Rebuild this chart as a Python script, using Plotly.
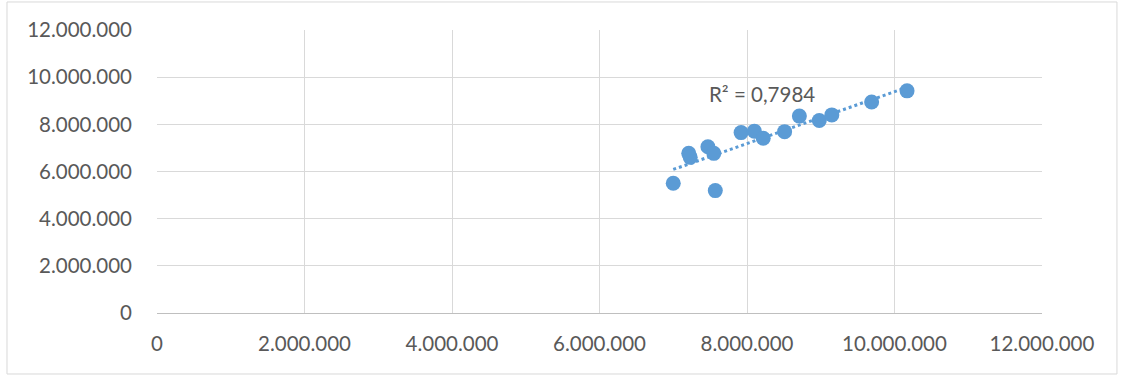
import numpy as np
import plotly.graph_objects as go

x_vals = [7.00e6, 7.57e6, 7.21e6, 7.23e6, 7.47e6, 7.55e6, 7.92e6, 8.10e6,
          8.22e6, 8.51e6, 8.71e6, 8.98e6, 9.15e6, 9.69e6, 10.17e6]
y_vals = [5.50e6, 5.19e6, 6.77e6, 6.60e6, 7.05e6, 6.77e6, 7.65e6, 7.71e6,
          7.41e6, 7.69e6, 8.35e6, 8.16e6, 8.40e6, 8.95e6, 9.42e6]
tick_vals = [0, 2e6, 4e6, 6e6, 8e6, 10e6, 12e6]
tick_text = ["0", "2.000.000", "4.000.000", "6.000.000", "8.000.000", "10.000.000", "12.000.000"]
r2_label = "R² = 0,7984"

blue = "#5B9BD5"
font = dict(family="Lato, Carlito, Calibri, sans-serif", size=20.5, color="#595959")

slope, intercept = np.polyfit(x_vals, y_vals, 1)
tx = np.array([min(x_vals), max(x_vals)])
ty = slope * tx + intercept

fig = go.Figure()
fig.add_trace(go.Scatter(x=tx, y=ty, mode="lines",
                         line=dict(color=blue, width=3, dash="dot"),
                         hoverinfo="skip", showlegend=False))
fig.add_trace(go.Scatter(x=x_vals, y=y_vals, mode="markers",
                         marker=dict(color=blue, size=15, line=dict(width=0)),
                         showlegend=False))

fig.add_annotation(x=8.2e6, y=9.29e6, text=r2_label, showarrow=False,
                   font=font, xanchor="center", yanchor="middle")

fig.update_layout(
    width=1124, height=376,
    margin=dict(l=157, r=82, t=30, b=63),
    paper_bgcolor="white", plot_bgcolor="white",
    font=font,
    showlegend=False,
    shapes=[dict(type="rect", xref="paper", yref="paper",
                 x0=-0.1695, x1=1.0847, y0=-0.2155, y1=1.099,
                 line=dict(color="#D9D9D9", width=1), fillcolor="rgba(0,0,0,0)",
                 layer="below")],
)
fig.update_xaxes(range=[0, 12e6], tickvals=tick_vals, ticktext=tick_text,
                 showgrid=True, gridcolor="#D9D9D9", gridwidth=1,
                 zeroline=False, showline=True, linecolor="#BFBFBF", linewidth=1,
                 ticks="", ticklabelstandoff=12, tickfont=font)
fig.update_yaxes(range=[0, 12e6], tickvals=tick_vals, ticktext=tick_text,
                 showgrid=True, gridcolor="#D9D9D9", gridwidth=1,
                 zeroline=False, showline=False,
                 ticks="", ticklabelstandoff=24, tickfont=font)

fig.write_html("out.html", config={"displayModeBar": False},
               post_script="document.body.style.margin='0';document.body.style.overflow='hidden';")
